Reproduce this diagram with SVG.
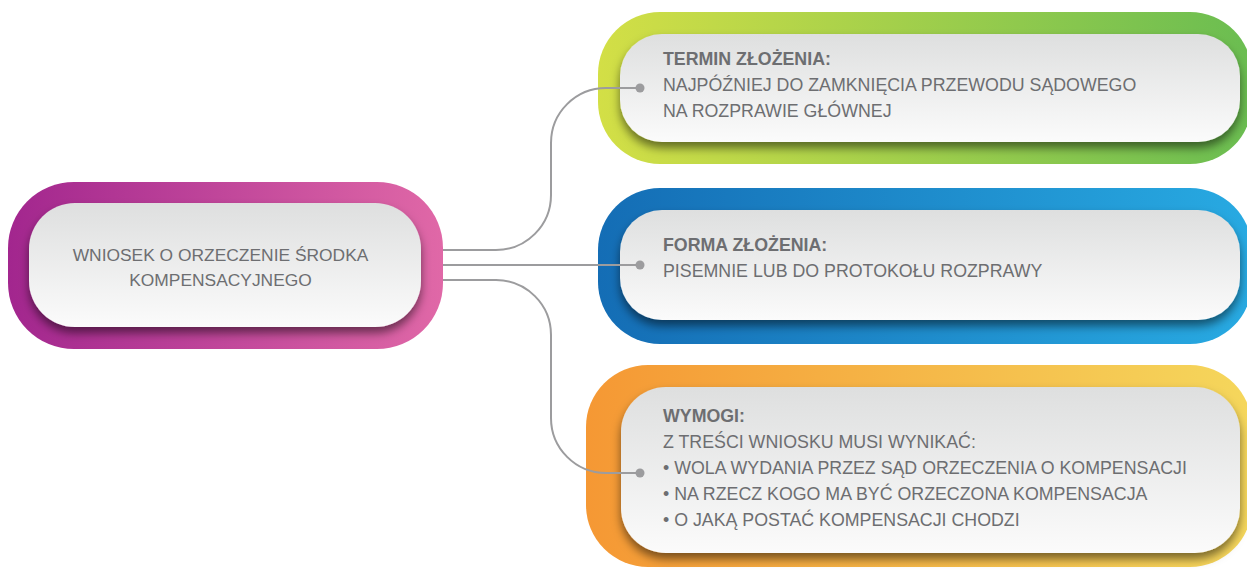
<svg xmlns="http://www.w3.org/2000/svg" width="1247" height="571" viewBox="0 0 1247 571">
<defs>
<linearGradient id="gMag" x1="0" y1="0" x2="1" y2="0"><stop offset="0" stop-color="#a2268e"/><stop offset="1" stop-color="#e068a7"/></linearGradient>
<linearGradient id="gGreen" x1="0" y1="0" x2="1" y2="0"><stop offset="0" stop-color="#d3df46"/><stop offset="1" stop-color="#6abd51"/></linearGradient>
<linearGradient id="gBlue" x1="0" y1="0" x2="1" y2="0"><stop offset="0" stop-color="#146db5"/><stop offset="1" stop-color="#28aae2"/></linearGradient>
<linearGradient id="gOrange" x1="0" y1="0" x2="1" y2="0"><stop offset="0" stop-color="#f59834"/><stop offset="1" stop-color="#f5d75c"/></linearGradient>
<linearGradient id="gInner" x1="0" y1="0" x2="0" y2="1"><stop offset="0" stop-color="#dedfdf"/><stop offset="1" stop-color="#fbfbfb"/></linearGradient>
<filter id="shadow" x="-10%" y="-20%" width="120%" height="150%"><feDropShadow dx="0" dy="6" stdDeviation="5" flood-color="#000" flood-opacity="0.5"/></filter>
</defs>
<style>
.inner{fill:url(#gInner);filter:url(#shadow)}
.t{font-family:"Liberation Sans",Arial,sans-serif;font-size:17.8px;fill:#6d6e71}
.b{font-weight:bold}
.c{fill:none;stroke:#9c9c9e;stroke-width:2}
.dot{fill:#9c9c9e}
</style>
<g id="node-main">
<rect x="8" y="182" width="435" height="167" rx="66" fill="url(#gMag)"/>
<rect class="inner" x="29" y="203" width="392" height="124" rx="46"/>
<text class="t" x="220.5" y="261" text-anchor="middle" style="font-size:17.4px">WNIOSEK O ORZECZENIE ŚRODKA</text>
<text class="t" x="220.5" y="286" text-anchor="middle" style="font-size:17.4px">KOMPENSACYJNEGO</text>
</g>
<g id="node-termin">
<rect x="598" y="12" width="654" height="152" rx="62" fill="url(#gGreen)"/>
<rect class="inner" x="620" y="34" width="620" height="108" rx="42"/>
<text class="t b" x="663" y="65">TERMIN ZŁOŻENIA:</text>
<text class="t" x="663" y="91">NAJPÓŹNIEJ DO ZAMKNIĘCIA PRZEWODU SĄDOWEGO</text>
<text class="t" x="663" y="117">NA ROZPRAWIE GŁÓWNEJ</text>
</g>
<g id="node-forma">
<rect x="598" y="188" width="654" height="156" rx="62" fill="url(#gBlue)"/>
<rect class="inner" x="620" y="210" width="620" height="110" rx="42"/>
<text class="t b" x="663" y="251">FORMA ZŁOŻENIA:</text>
<text class="t" x="663" y="277">PISEMNIE LUB DO PROTOKOŁU ROZPRAWY</text>
</g>
<g id="node-wymogi">
<rect x="586" y="365" width="666" height="202" rx="62" fill="url(#gOrange)"/>
<rect class="inner" x="621" y="387" width="619" height="166" rx="45"/>
<text class="t b" x="663" y="422">WYMOGI:</text>
<text class="t" x="663" y="448">Z TREŚCI WNIOSKU MUSI WYNIKAĆ:</text>
<text class="t" x="663" y="474">• WOLA WYDANIA PRZEZ SĄD ORZECZENIA O KOMPENSACJI</text>
<text class="t" x="663" y="500">• NA RZECZ KOGO MA BYĆ ORZECZONA KOMPENSACJA</text>
<text class="t" x="663" y="526">• O JAKĄ POSTAĆ KOMPENSACJI CHODZI</text>
</g>
<g id="connectors">
<path class="c" d="M443,250 H496 A55,55 0 0 0 551,195 V143 A55,55 0 0 1 606,88 H640"/>
<path class="c" d="M443,265 H640"/>
<path class="c" d="M443,280 H496 A55,55 0 0 1 551,335 V418 A55,55 0 0 0 606,473 H640"/>
<circle class="dot" cx="640" cy="88" r="4.5"/>
<circle class="dot" cx="640" cy="265" r="4.5"/>
<circle class="dot" cx="640" cy="473" r="4.5"/>
</g>
</svg>
